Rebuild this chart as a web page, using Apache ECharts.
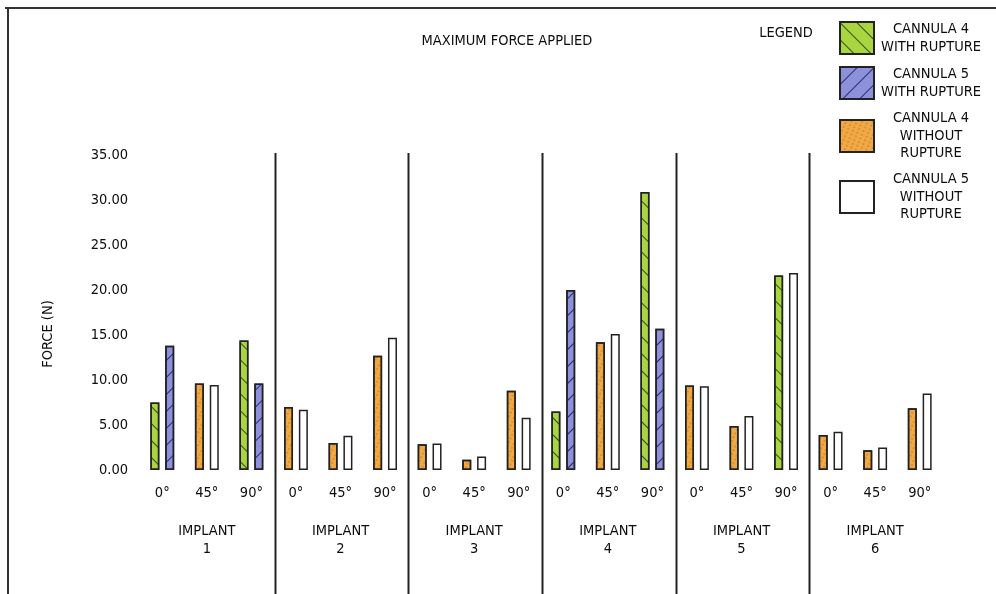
<!DOCTYPE html>
<html><head><meta charset="utf-8">
<script src="https://cdn.jsdelivr.net/npm/echarts@6/dist/echarts.min.js"></script>
<style>html,body{margin:0;padding:0;background:#fff}#c{width:996px;height:594px}</style>
</head><body><div id="c"></div>
<script>
var implants = ['1','2','3','4','5','6'];
var angles = ['0°','45°','90°'];
var yTicks = [0,5,10,15,20,25,30,35];
// values per category (implant x angle), '-' = no bar
var cannula4Rupture   = [7.5,'-',14.4, '-','-','-', '-','-','-', 6.5,'-',30.9, '-','-',21.6, '-','-','-'];
var cannula5Rupture   = [13.8,'-',9.6, '-','-','-', '-','-','-', 20.0,'-',15.7, '-','-','-', '-','-','-'];
var cannula4NoRupture = ['-',9.6,'-', 7.0,3.0,12.7, 2.85,1.15,8.8, '-',14.2,'-', 9.4,4.9,'-', 3.9,2.2,6.85];
var cannula5NoRupture = ['-',9.45,'-', 6.7,3.8,14.7, 2.95,1.5,5.8, '-',15.1,'-', 9.3,6.0,21.9, 4.25,2.5,8.5];
var seriesNames = ['CANNULA 4\nWITH RUPTURE','CANNULA 5\nWITH RUPTURE','CANNULA 4\nWITHOUT\nRUPTURE','CANNULA 5\nWITHOUT\nRUPTURE'];

var categories = [];
implants.forEach(function(im){ angles.forEach(function(a){ categories.push(im + '|' + a); }); });
var implantLabels = implants.map(function(im){ return 'IMPLANT\n' + im; });

var FONT = "'DejaVu Sans Condensed','Liberation Sans Narrow',sans-serif";
var FS = 14.5;
var TXT = '#0d0d0d';
var chart = echarts.init(document.getElementById('c'), null, {renderer:'canvas'});

function barSeries(name, data, stack, color, decal){
  return {
    name: name, type: 'bar', stack: stack, data: data,
    barWidth: 9, barGap: '65%',
    itemStyle: {color: color, borderColor: '#222', borderWidth: 1.5, decal: decal},
    emphasis: {disabled: true}
  };
}

var option = {
  backgroundColor: '#fff',
  animation: false,
  grid: {left: 140, right: 54, top: 155, bottom: 124, containLabel: false},
  title: {text: 'MAXIMUM FORCE APPLIED', left: 502, top: 29, textAlign: 'center',
    textStyle: {fontFamily: FONT, fontSize: FS, fontWeight: 'normal', color: TXT}},
  legend: {
    orient: 'vertical', left: 839, top: 21, padding: 0, itemWidth: 34, itemHeight: 32, itemGap: 11, itemTextGap: 3,
    selectedMode: false,
    icon: 'rect',
    data: seriesNames,
    formatter: function(n){ return '{a|' + n + '}'; },
    textStyle: {fontFamily: FONT, fontSize: FS, color: TXT,
      rich: {a: {fontFamily: FONT, fontSize: FS, color: TXT, width: 104, align: 'center', lineHeight: 17.5}}}
  },
  xAxis: [{
    type: 'category', data: categories, position: 'bottom',
    axisLine: {show: false}, axisTick: {show: false},
    axisLabel: {margin: 16, fontFamily: FONT, fontSize: FS, color: TXT, interval: 0,
      formatter: function(v){ return v.split('|')[1]; }}
  },{
    type: 'category', data: implantLabels, position: 'bottom', offset: 44,
    axisLine: {show: false}, axisTick: {show: false},
    axisLabel: {margin: 8, fontFamily: FONT, fontSize: FS, color: TXT, lineHeight: 18, interval: 0}
  }],
  yAxis: {
    type: 'value', min: 0, max: 35, interval: 5,
    axisLine: {show: false}, axisTick: {show: false}, splitLine: {show: false},
    axisLabel: {margin: 12, fontFamily: FONT, fontSize: FS, color: TXT,
      formatter: function(v){ return v.toFixed(2); }}
  },
  series: [
    barSeries(seriesNames[0], cannula4Rupture, 'L', '#a9d63f',
      {symbol: 'rect', symbolSize: 1, dashArrayX: [1,0], dashArrayY: [1, 11], rotation: Math.PI/4, color: '#2e4a1c'}),
    barSeries(seriesNames[1], cannula5Rupture, 'R', '#8d91d9',
      {symbol: 'rect', symbolSize: 1, dashArrayX: [1,0], dashArrayY: [1, 11], rotation: -Math.PI/4, color: '#24296e'}),
    barSeries(seriesNames[2], cannula4NoRupture, 'L', '#f0a944',
      {symbol: 'circle', symbolSize: 0.8, dashArrayX: [1.5, 2.5], dashArrayY: [1.5, 2], rotation: 0.4, color: 'rgba(170,95,15,0.75)'}),
    barSeries(seriesNames[3], cannula5NoRupture, 'R', '#ffffff', null)
  ]
};
chart.setOption(option);

// separators between implants, the frame, legend heading and y-axis name
var g = [];
var y0 = chart.convertToPixel({yAxisIndex: 0}, 35) - 2;
for (var i = 1; i < implants.length; i++) {
  var a = chart.convertToPixel({xAxisIndex: 0}, i*3 - 1);
  var b = chart.convertToPixel({xAxisIndex: 0}, i*3);
  var x = Math.round((a + b) / 2) + 1.5;
  g.push({type: 'line', shape: {x1: x, y1: y0, x2: x, y2: 594}, style: {stroke: '#222', lineWidth: 2}, silent: true});
}
g.push({type: 'line', shape: {x1: 5, y1: 8, x2: 996, y2: 8}, style: {stroke: '#333', lineWidth: 2}, silent: true});
g.push({type: 'line', shape: {x1: 8, y1: 8, x2: 8, y2: 594}, style: {stroke: '#333', lineWidth: 2}, silent: true});
g.push({type: 'text', x: 786, y: 33, style: {text: 'LEGEND', fontFamily: FONT, fontSize: FS, fill: TXT, align: 'center', verticalAlign: 'middle'}, silent: true});
g.push({type: 'text', x: 48, y: 334, rotation: Math.PI/2, style: {text: 'FORCE (N)', fontFamily: FONT, fontSize: FS, fill: TXT, align: 'center', verticalAlign: 'middle'}, silent: true});
chart.setOption({graphic: g});
</script></body></html>
